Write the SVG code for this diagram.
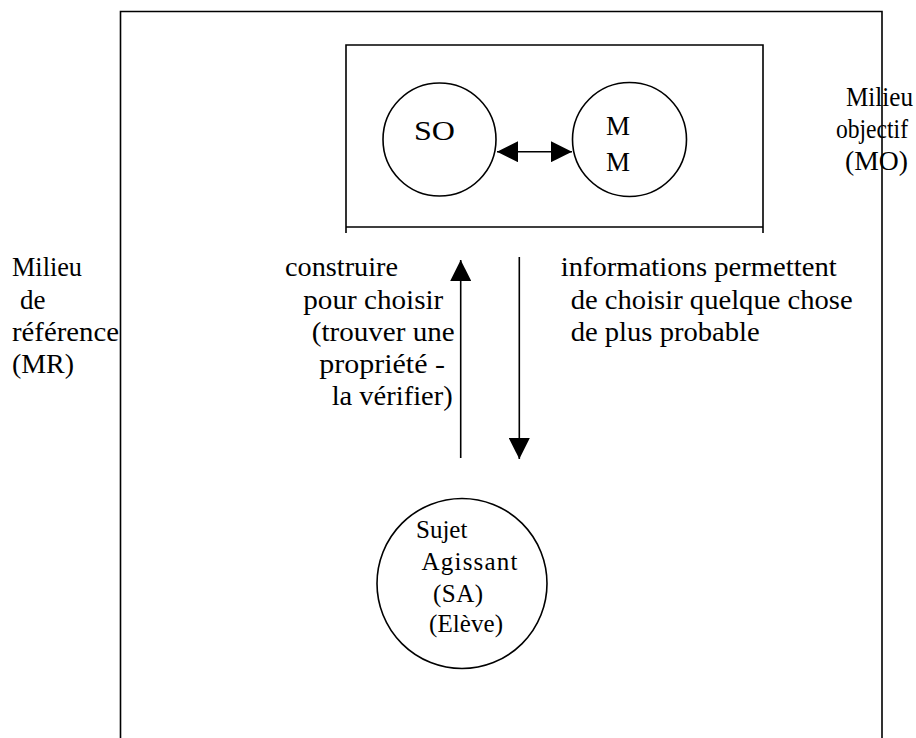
<svg xmlns="http://www.w3.org/2000/svg" width="916" height="738" viewBox="0 0 916 738" font-family="'Liberation Serif', 'Times New Roman', serif">
  <style>
    .ln { fill: none; stroke: #000; stroke-width: 1.6; }
    .node { fill: #fff; stroke: #000; stroke-width: 1.6; }
    text { font-family: "Liberation Serif", "Times New Roman", serif; fill: #000; }
    .t { font-size: 27px; }
    .ts { font-size: 25px; }
  </style>
  <defs>
    <marker id="arrow" markerUnits="userSpaceOnUse" markerWidth="21" markerHeight="21" refX="21" refY="10.5" orient="auto-start-reverse" viewBox="0 0 21 21">
      <path d="M0,0 L21,10.5 L0,21 z" fill="#000"/>
    </marker>
  </defs>
  <rect width="916" height="738" fill="#fff"/>

  <g id="milieu-reference">
    <path class="ln" d="M120.5,738 V11.5 H882 V738"/>
    <text class="t" x="12" y="276" textLength="70" lengthAdjust="spacingAndGlyphs">Milieu</text>
    <text class="t" x="20" y="308.5">de</text>
    <text class="t" x="12" y="341" textLength="107" lengthAdjust="spacingAndGlyphs">référence</text>
    <text class="t" x="12" y="373" textLength="62" lengthAdjust="spacingAndGlyphs">(MR)</text>
  </g>

  <g id="milieu-objectif">
    <path class="ln" d="M346,233 V45 H763 V233 M346,227 H763"/>
    <text class="t" x="846" y="106" textLength="67" lengthAdjust="spacingAndGlyphs">Milieu</text>
    <text class="t" x="836" y="138" textLength="72" lengthAdjust="spacingAndGlyphs">objectif</text>
    <text class="t" x="845" y="170" textLength="63" lengthAdjust="spacingAndGlyphs">(MO)</text>
  </g>

  <g id="node-so">
    <circle class="node" cx="439.5" cy="139.5" r="56.5"/>
    <text class="t" x="414" y="140" textLength="41" lengthAdjust="spacingAndGlyphs">SO</text>
  </g>

  <g id="node-mm">
    <circle class="node" cx="629.5" cy="139.5" r="57"/>
    <text class="t" x="606" y="135">M</text>
    <text class="t" x="606" y="171">M</text>
  </g>

  <g id="node-sa">
    <circle class="node" cx="462" cy="583.5" r="85"/>
    <text class="ts" x="416" y="538" font-size="23">Sujet</text>
    <text class="ts" x="421.5" y="570" textLength="96" lengthAdjust="spacing">Agissant</text>
    <text class="ts" x="433" y="602" textLength="50" lengthAdjust="spacing">(SA)</text>
    <text class="ts" x="429" y="632" textLength="74" lengthAdjust="spacing">(Elève)</text>
  </g>

  <g id="connectors">
    <line class="ln" x1="497" y1="151.7" x2="572" y2="151.7" marker-start="url(#arrow)" marker-end="url(#arrow)"/>
    <line class="ln" x1="460.7" y1="458" x2="460.7" y2="260" marker-end="url(#arrow)"/>
    <line class="ln" x1="519.3" y1="257" x2="519.3" y2="459" marker-end="url(#arrow)"/>
  </g>

  <g id="label-construire">
    <text class="t" x="285" y="276" textLength="113" lengthAdjust="spacingAndGlyphs">construire</text>
    <text class="t" x="303.3" y="308.5" textLength="140" lengthAdjust="spacingAndGlyphs">pour choisir</text>
    <text class="t" x="311.7" y="341" textLength="143" lengthAdjust="spacingAndGlyphs">(trouver une</text>
    <text class="t" x="319.3" y="373" textLength="125.7" lengthAdjust="spacingAndGlyphs">propriété -</text>
    <text class="t" x="331.7" y="405" textLength="121" lengthAdjust="spacingAndGlyphs">la vérifier)</text>
  </g>

  <g id="label-informations">
    <text class="t" x="560.7" y="276" textLength="276" lengthAdjust="spacingAndGlyphs">informations permettent</text>
    <text class="t" x="570.7" y="308.5" textLength="282" lengthAdjust="spacingAndGlyphs">de choisir quelque chose</text>
    <text class="t" x="570.7" y="341" textLength="189" lengthAdjust="spacingAndGlyphs">de plus probable</text>
  </g>
</svg>
